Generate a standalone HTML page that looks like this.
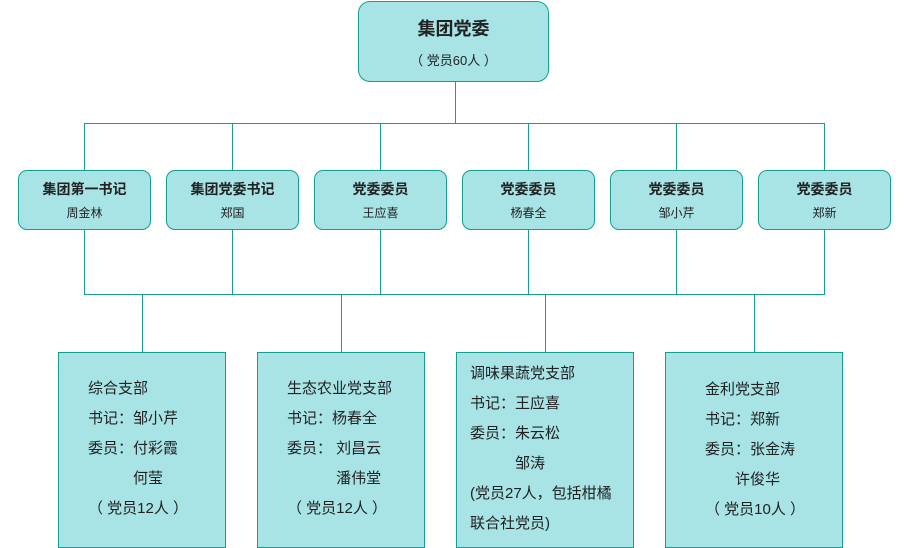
<!DOCTYPE html>
<html><head><meta charset="utf-8"><style>
body{margin:0;width:906px;height:548px;background:#fff;position:relative;overflow:hidden;font-family:"Liberation Sans","Noto Sans CJK SC",sans-serif;color:#222}
.b{position:absolute;background:#a8e3e6;border:1.5px solid #13a090;box-sizing:border-box}
.r{border-radius:9px;text-align:center}
.l{position:absolute;background:#13a090}
.t{position:absolute;font-size:15px;white-space:nowrap;line-height:20px}
</style></head><body>
<div class="b r" style="left:358px;top:1px;width:191px;height:81px;border-radius:12px">
<div style="margin-top:13px;font-size:18px;font-weight:bold">集团党委</div>
<div style="margin-top:9px;font-size:13px">（ 党员60人 ）</div></div>
<div class="l" style="left:455px;top:82px;width:1px;height:42px"></div>
<div class="l" style="left:84px;top:123px;width:741px;height:1px"></div>
<div class="l" style="left:84px;top:294px;width:741px;height:1px"></div>
<script>
var xs=[18,166,314,462,610,758],t=[["集团第一书记","周金林"],["集团党委书记","郑国"],["党委委员","王应喜"],["党委委员","杨春全"],["党委委员","邹小芹"],["党委委员","郑新"]];
var h="";
xs.forEach(function(x,i){var c=x+66;
h+='<div class="l" style="left:'+c+'px;top:123px;width:1px;height:48px"></div>';
h+='<div class="l" style="left:'+c+'px;top:229px;width:1px;height:66px"></div>';
h+='<div class="b r" style="left:'+x+'px;top:170px;width:133px;height:60px"><div style="margin-top:8px;font-size:14px;font-weight:bold">'+t[i][0]+'</div><div style="margin-top:5px;font-size:12px">'+t[i][1]+'</div></div>';});
[[142,58,168],[341,257,168],[545,456,178],[754,665,178]].forEach(function(a){
h+='<div class="l" style="left:'+a[0]+'px;top:294px;width:1px;height:59px"></div>';
h+='<div class="b" style="left:'+a[1]+'px;top:352px;width:'+a[2]+'px;height:196px"></div>';});
var L=[[88,379,["综合支部","书记：邹小芹","委员：付彩霞","　　　何莹","（ 党员12人 ）"]],
[287,379,["生态农业党支部","书记：杨春全","委员： 刘昌云","　　　 潘伟堂","（ 党员12人 ）"]],
[470,364,["调味果蔬党支部","书记：王应喜","委员：朱云松","　　　邹涛","(党员27人，包括柑橘","联合社党员)"]],
[705,380,["金利党支部","书记：郑新","委员：张金涛","　　许俊华","（ 党员10人 ）"]]];
L.forEach(function(b){b[2].forEach(function(s,j){h+='<div class="t" style="left:'+b[0]+'px;top:'+(b[1]+j*30)+'px">'+s+'</div>';});});
document.write(h);
</script>
</body></html>
